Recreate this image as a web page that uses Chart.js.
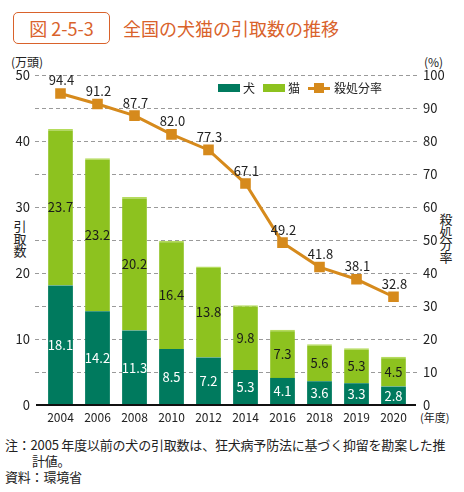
<!DOCTYPE html>
<html lang="ja">
<head>
<meta charset="utf-8">
<script src="https://cdn.jsdelivr.net/npm/chart.js@4"></script>
<style>
  body { margin: 0; width: 464px; height: 492px; background: #fff; position: relative; overflow: hidden;
         font-family: "Noto Sans CJK JP", "Noto Sans", sans-serif; color: #222; }
  .abs { position: absolute; white-space: nowrap; }
  #figbox { left: 13px; top: 12px; width: 95px; height: 30px; border: 1.5px solid #d9622b; border-radius: 5px;
            color: #d9622b; font-size: 18px; line-height: 30px; text-align: center; }
  #title { left: 123px; top: 13px; color: #d9622b; font-size: 18px; line-height: 30px; }
  .unit { font-size: 12px; top: 53px; }
  .vtitle { font-size: 13px; line-height: 12.5px; text-align: center; width: 14px; }
  #legend { left: 218px; top: 80px; font-size: 12px; line-height: 16px; display: flex; align-items: center; }
  .sw { display: inline-block; width: 22px; height: 8px; margin-right: 3px; }
  .note { font-size: 13px; left: 5px; letter-spacing: -0.2px; }
  #wrap { position: absolute; left: 0; top: 50px; width: 464px; height: 380px; }
</style>
</head>
<body>
<div class="abs" id="figbox">図 2-5-3</div>
<div class="abs" id="title">全国の犬猫の引取数の推移</div>
<div class="abs unit" style="left:11px">(万頭)</div>
<div class="abs unit" style="left:424px">(%)</div>
<div class="abs vtitle" style="left:13px; top:220px">引<br>取<br>数</div>
<div class="abs vtitle" style="left:439px; top:213px">殺<br>処<br>分<br>率</div>
<div class="abs" style="left:420px; top:409px; font-size:11px">(年度)</div>

<div id="wrap"><canvas id="chart"></canvas></div>

<div class="abs" id="legend">
  <span class="sw" style="background:#007a5e"></span><span style="margin-right:8px">犬</span>
  <span class="sw" style="background:#8dc21f"></span><span style="margin-right:8px">猫</span>
  <span style="position:relative; display:inline-block; width:22px; height:10px; margin-right:4px">
    <span style="position:absolute; left:0; top:4px; width:22px; height:3px; background:#d68a1c"></span>
    <span style="position:absolute; left:6px; top:0; width:10px; height:10px; background:#d68a1c"></span>
  </span><span>殺処分率</span>
</div>

<div class="abs note" style="top:435px">注：2005 年度以前の犬の引取数は、狂犬病予防法に基づく抑留を勘案した推</div>
<div class="abs note" style="top:451px; left:32px">計値。</div>
<div class="abs note" style="top:467px">資料：環境省</div>

<script>
const years = ["2004", "2006", "2008", "2010", "2012", "2014", "2016", "2018", "2019", "2020"];
const dogs = [18.1, 14.2, 11.3, 8.5, 7.2, 5.3, 4.1, 3.6, 3.3, 2.8];
const cats = [23.7, 23.2, 20.2, 16.4, 13.8, 9.8, 7.3, 5.6, 5.3, 4.5];
const killRate = [94.4, 91.2, 87.7, 82.0, 77.3, 67.1, 49.2, 41.8, 38.1, 32.8];

const FONT = "'Noto Sans CJK JP', 'Noto Sans', sans-serif";

// dashed grid + baseline, a little wider than the plot area
const gridPlugin = {
  id: "grid",
  beforeDatasetsDraw(chart) {
    const { ctx, chartArea } = chart;
    const y1 = chart.scales.y1;
    ctx.save();
    ctx.strokeStyle = "#9a9a9a";
    ctx.lineWidth = 1;
    ctx.setLineDash([4, 3]);
    for (let v = 10; v <= 100; v += 10) {
      const py = Math.round(y1.getPixelForValue(v)) + 0.5;
      ctx.beginPath();
      ctx.moveTo(chartArea.left - 7, py);
      ctx.lineTo(chartArea.right + 6, py);
      ctx.stroke();
    }
    ctx.restore();
  },
  afterDatasetsDraw(chart) {
    const { ctx, chartArea } = chart;
    const py = chart.scales.y.getPixelForValue(0);
    ctx.save();
    ctx.strokeStyle = "#111";
    ctx.lineWidth = 2;
    ctx.beginPath();
    ctx.moveTo(chartArea.left - 6, py);
    ctx.lineTo(chartArea.right + 4, py);
    ctx.stroke();
    ctx.restore();
  }
};

// value labels
const labelPlugin = {
  id: "labels",
  afterDraw(chart) {
    const ctx = chart.ctx;
    ctx.save();
    ctx.font = "13px " + FONT;
    ctx.textAlign = "center";
    ctx.textBaseline = "middle";
    chart.data.datasets.forEach((ds, di) => {
      const meta = chart.getDatasetMeta(di);
      meta.data.forEach((el, i) => {
        const txt = ds.data[i].toFixed(1);
        if (ds.type === "line") {
          ctx.fillStyle = "#222";
          ctx.fillText(txt, el.x + 1, el.y - 13);
        } else {
          ctx.fillStyle = ds.labelColor;
          ctx.fillText(txt, el.x, (el.y + el.base) / 2);
        }
      });
    });
    ctx.restore();
  }
};

new Chart(document.getElementById("chart"), {
  data: {
    labels: years,
    datasets: [
      {
        type: "line",
        label: "殺処分率",
        data: killRate,
        yAxisID: "y1",
        borderColor: "#d68a1c",
        backgroundColor: "#d68a1c",
        borderWidth: 3,
        pointStyle: "rect",
        pointRadius: 7.5,
        pointBorderWidth: 0,
        tension: 0,
        order: 0
      },
      {
        type: "bar",
        label: "犬",
        data: dogs,
        yAxisID: "y",
        stack: "s",
        backgroundColor: "#007a5e",
        labelColor: "#ffffff",
        barPercentage: 0.67,
        categoryPercentage: 1,
        order: 1
      },
      {
        type: "bar",
        label: "猫",
        data: cats,
        yAxisID: "y",
        stack: "s",
        backgroundColor: "#8dc21f",
        borderColor: "#b5dc5c",
        borderWidth: { top: 1.5, left: 0, right: 0, bottom: 0 },
        borderSkipped: false,
        labelColor: "#1a1a1a",
        barPercentage: 0.67,
        categoryPercentage: 1,
        order: 1
      }
    ]
  },
  options: {
    responsive: true,
    maintainAspectRatio: false,
    animation: false,
    layout: { padding: { top: 25, left: 0, right: 0, bottom: 0 } },
    plugins: {
      legend: { display: false },
      tooltip: { enabled: false }
    },
    scales: {
      x: {
        stacked: true,
        grid: { display: false, drawTicks: false },
        border: { display: false },
        ticks: { color: "#222", font: { family: FONT, size: 12 }, padding: 5, maxRotation: 0 },
        afterFit(s) { s.height = 25; }
      },
      y: {
        position: "left",
        stacked: true,
        min: 0,
        max: 50,
        grid: { display: false, drawTicks: false },
        border: { display: false },
        ticks: { stepSize: 10, color: "#222", font: { family: FONT, size: 13 }, padding: 12 },
        afterFit(s) { s.width = 42; }
      },
      y1: {
        position: "right",
        min: 0,
        max: 100,
        grid: { display: false, drawTicks: false },
        border: { display: false },
        ticks: { stepSize: 10, color: "#222", font: { family: FONT, size: 13 }, padding: 11 },
        afterFit(s) { s.width = 52; }
      }
    }
  },
  plugins: [gridPlugin, labelPlugin]
});
</script>
</body>
</html>
